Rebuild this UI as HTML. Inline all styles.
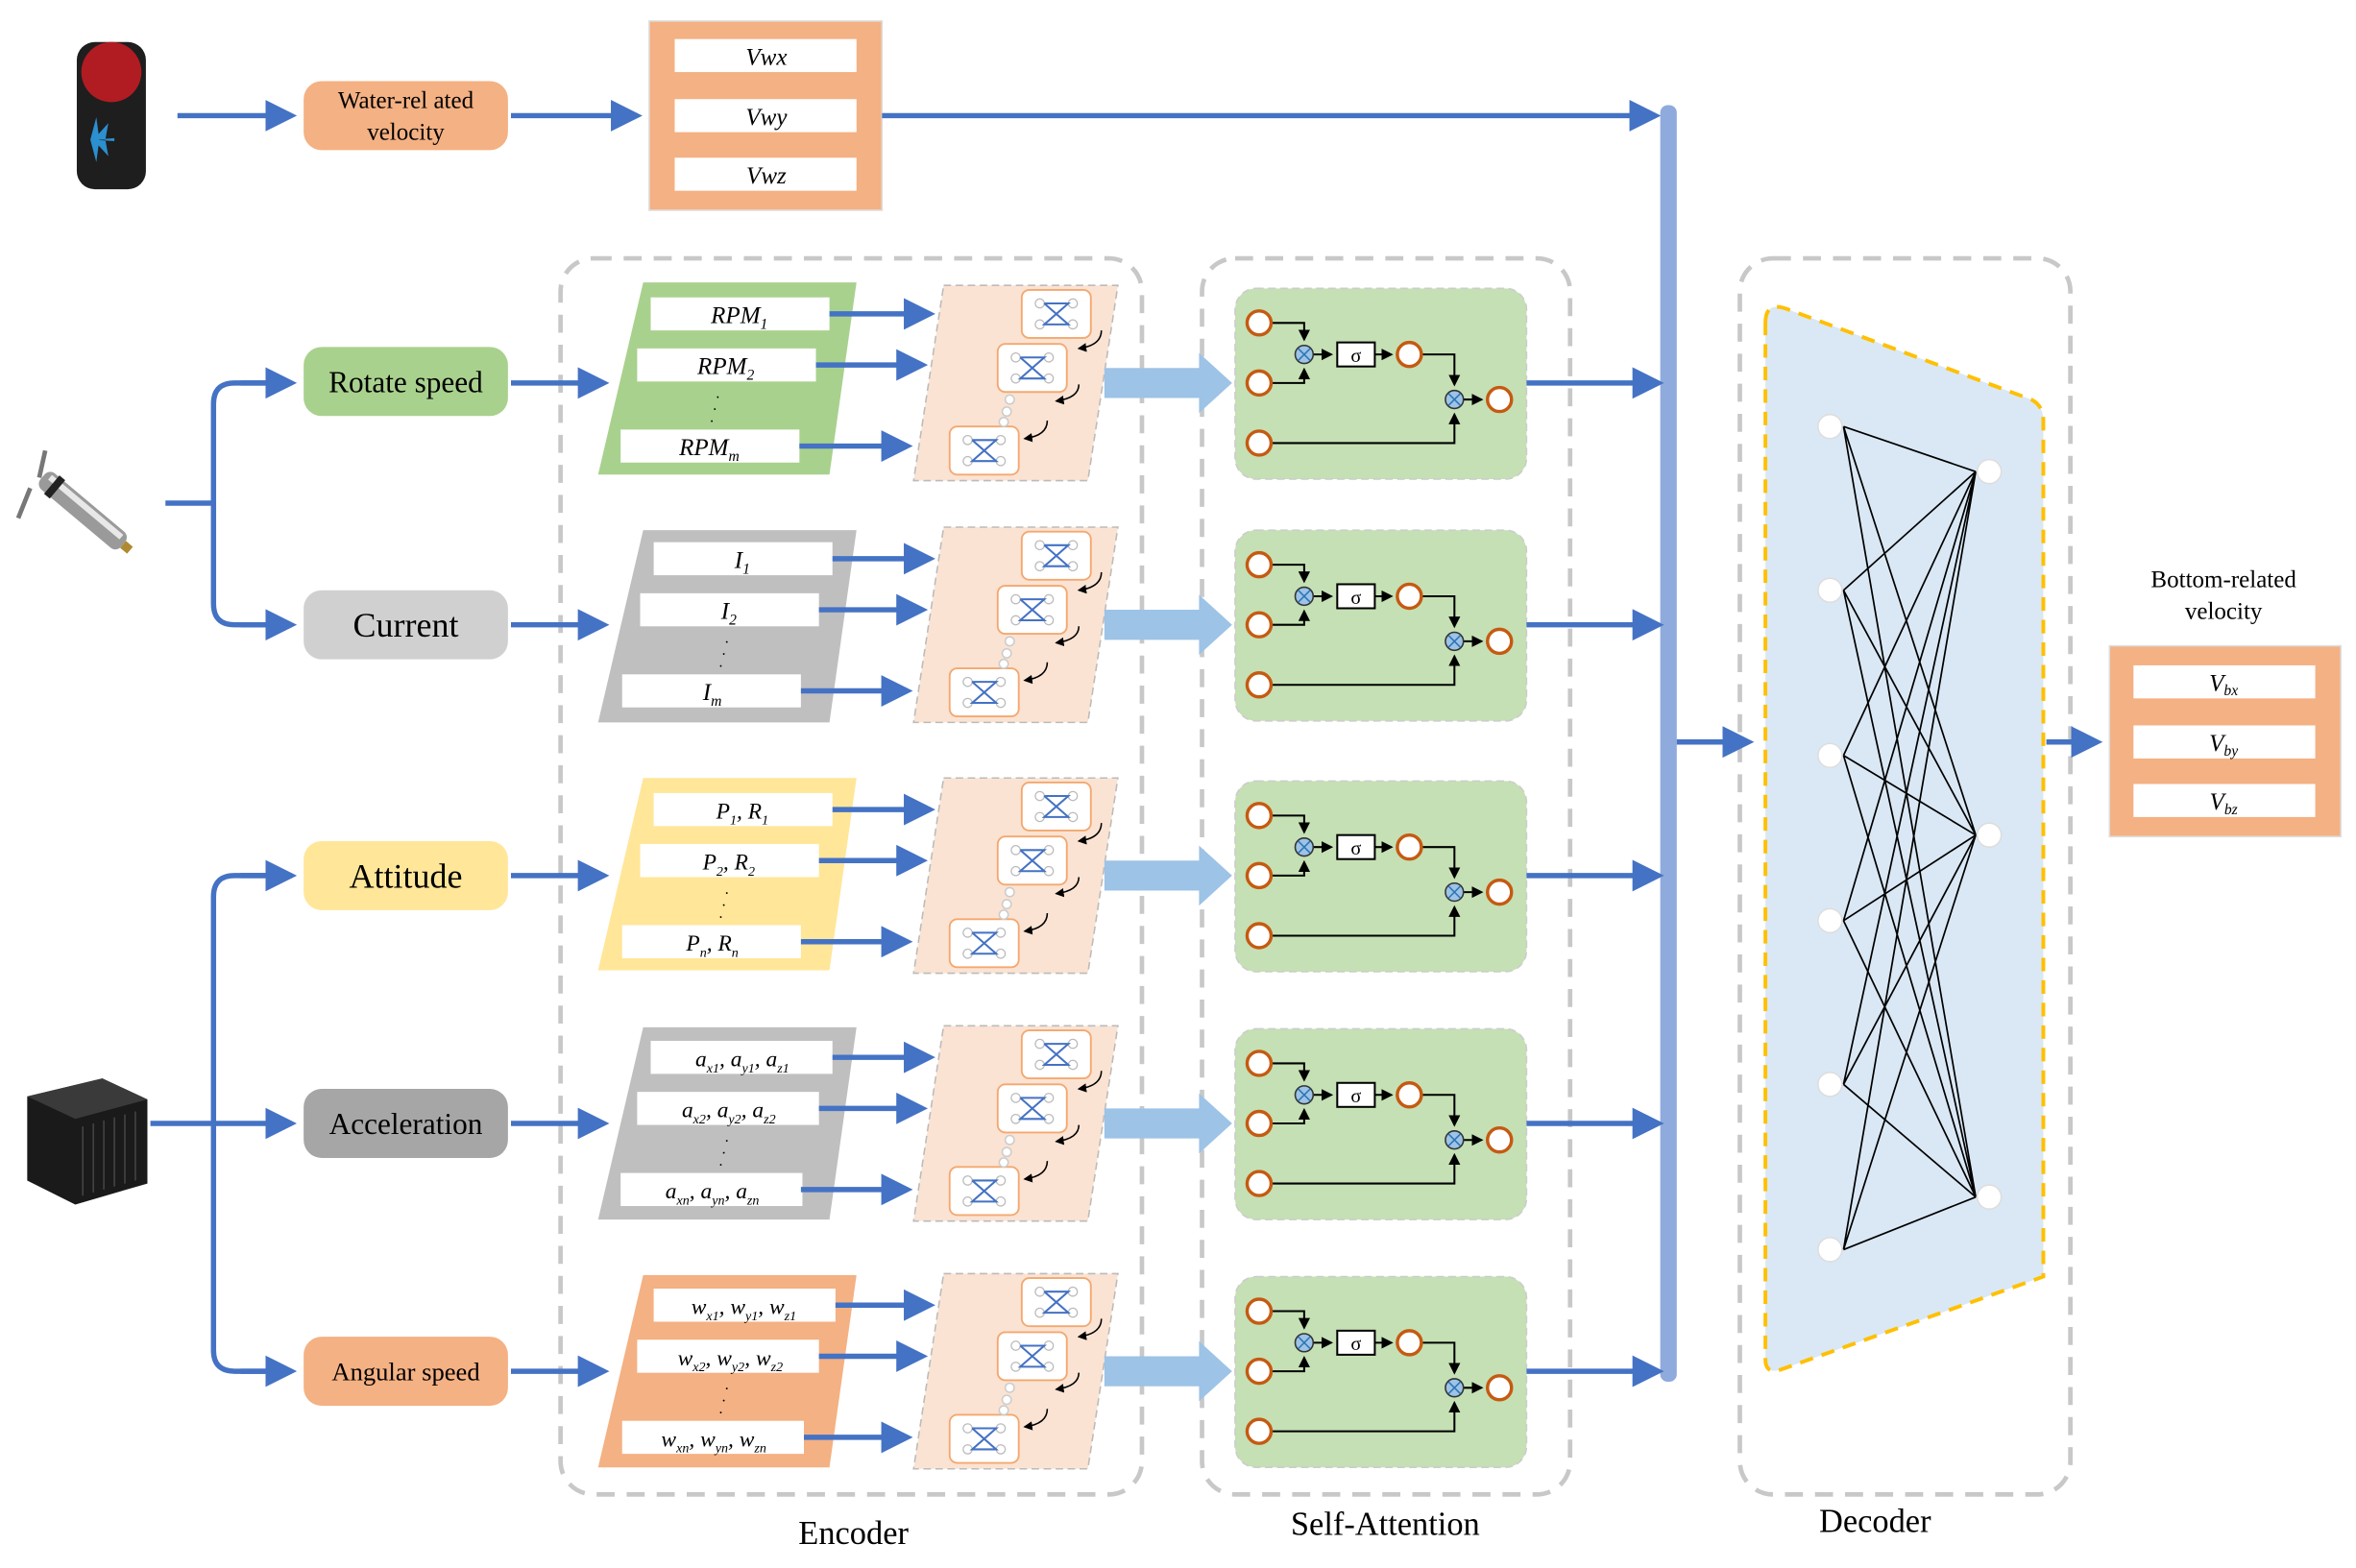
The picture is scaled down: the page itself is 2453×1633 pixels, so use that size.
<!DOCTYPE html>
<html><head><meta charset="utf-8"><style>
html,body{margin:0;padding:0;background:#fff}
svg{display:block}
text{font-family:"Liberation Serif",serif}
.it{font-style:italic}
</style></head><body>
<svg width="2453" height="1633" viewBox="0 0 1568 1044" xmlns="http://www.w3.org/2000/svg">
<defs>
<marker id="ah" markerWidth="6" markerHeight="6" refX="5" refY="3" orient="auto" markerUnits="strokeWidth"><path d="M0,0 L6,3 L0,6 z" fill="#4472c4"/></marker>
<marker id="bk" markerWidth="6" markerHeight="6" refX="5" refY="3" orient="auto" markerUnits="strokeWidth"><path d="M0,0 L6,3 L0,6 z" fill="#000"/></marker>
<g id="cell">
<rect x="0" y="0" width="46" height="32" rx="5" fill="#fff" stroke="#f4a870" stroke-width="1.2"/>
<circle cx="12" cy="9" r="3" fill="#fff" stroke="#bbb" stroke-width=".8"/><circle cx="34" cy="9" r="3" fill="#fff" stroke="#bbb" stroke-width=".8"/>
<circle cx="12" cy="23" r="3" fill="#fff" stroke="#bbb" stroke-width=".8"/><circle cx="34" cy="23" r="3" fill="#fff" stroke="#bbb" stroke-width=".8"/>
<path d="M15,9 H31 L15,23 H31 L15,9" fill="none" stroke="#4472c4" stroke-width="1.3"/>
</g>
<g id="lstm">
<path d="M628,190 L744,190 L724,320 L608,320 Z" fill="#fbe3d3" stroke="#bbb" stroke-dasharray="5,3"/>
<use href="#cell" x="680" y="193"/>
<use href="#cell" x="664" y="229"/>
<use href="#cell" x="632" y="284"/>
<circle cx="672" cy="266" r="3" fill="#fff" stroke="#ccc"/><circle cx="670" cy="274" r="3" fill="#fff" stroke="#ccc"/><circle cx="668" cy="281" r="3" fill="#fff" stroke="#ccc"/>
<path d="M733,220 Q733,230 718,232" fill="none" stroke="#000" marker-end="url(#bk)"/>
<path d="M718,256 Q718,265 703,267" fill="none" stroke="#000" marker-end="url(#bk)"/>
<path d="M697,280 Q697,290 682,292" fill="none" stroke="#000" marker-end="url(#bk)"/>
<path d="M735,245 H798 V235 L820,255 L798,275 V265 H735 Z" fill="#9dc3e6"/>
</g>
<g id="att">
<rect x="822" y="192" width="194" height="127" rx="14" fill="#c5e0b4" stroke="#ccc" stroke-dasharray="5,3"/>
<g fill="none" stroke="#000" stroke-width="1.3">
<path d="M846,215 H868 V226" marker-end="url(#bk)"/>
<path d="M846,255 H868 V246" marker-end="url(#bk)"/>
<path d="M874,236 H886" marker-end="url(#bk)"/>
<path d="M915,236 H926" marker-end="url(#bk)"/>
<path d="M946,236 H968 V256" marker-end="url(#bk)"/>
<path d="M846,295 H968 V276" marker-end="url(#bk)"/>
<path d="M974,266 H986" marker-end="url(#bk)"/>
</g>
<g fill="#fff" stroke="#c55a11" stroke-width="2.2">
<circle cx="838" cy="215" r="8"/><circle cx="838" cy="255" r="8"/><circle cx="838" cy="295" r="8"/>
<circle cx="938" cy="236" r="8"/><circle cx="998" cy="266" r="8"/>
</g>
<circle cx="868" cy="236" r="6" fill="#9dc3e6" stroke="#333"/><path d="M864,232 L872,240 M872,232 L864,240" stroke="#2e75b6"/>
<circle cx="968" cy="266" r="6" fill="#9dc3e6" stroke="#333"/><path d="M964,262 L972,270 M972,262 L964,270" stroke="#2e75b6"/>
<rect x="890" y="228" width="25" height="16" fill="#fff" stroke="#000" stroke-width="1.3"/>
<text x="902.5" y="241" font-size="13" text-anchor="middle" font-family="Liberation Sans,sans-serif">σ</text>
<path d="M1016,255 H1104" stroke="#4472c4" stroke-width="3.5" marker-end="url(#ah)"/>
</g>
</defs>

<!-- outer dashed containers -->
<g fill="none" stroke="#c8c8c8" stroke-width="3" stroke-dasharray="12,8">
<rect x="373" y="172" width="387" height="823" rx="22"/>
<rect x="800" y="172" width="245" height="823" rx="22"/>
<rect x="1158" y="172" width="220" height="823" rx="22"/>
</g>
<text x="568" y="1028" font-size="22" text-anchor="middle">Encoder</text>
<text x="922" y="1022" font-size="22" text-anchor="middle">Self-Attention</text>
<text x="1248" y="1020" font-size="22" text-anchor="middle">Decoder</text>

<!-- top row -->
<rect x="51" y="28" width="46" height="98" rx="12" fill="#1e1e1e"/>
<circle cx="74" cy="48" r="20" fill="#b01c22"/>
<path d="M62,93 L72,82 L70,93 Z M62,93 L72,104 L70,93 Z M60,93 L64,78 L66,93 Z M60,93 L64,108 L66,93Z M62,93 L76,92 L76,94 Z" fill="#2b8fd0"/>
<path d="M118,77 H194" stroke="#4472c4" stroke-width="3.5" marker-end="url(#ah)"/>
<rect x="202" y="54" width="136" height="46" rx="12" fill="#f4b183"/>
<text x="270" y="72" font-size="16" text-anchor="middle">Water-rel ated</text>
<text x="270" y="93" font-size="16" text-anchor="middle">velocity</text>
<path d="M340,77 H424" stroke="#4472c4" stroke-width="3.5" marker-end="url(#ah)"/>
<rect x="432" y="14" width="155" height="126" fill="#f4b183" stroke="#ddd"/>
<rect x="449" y="26" width="121" height="22" fill="#fff"/><rect x="449" y="66" width="121" height="22" fill="#fff"/><rect x="449" y="105" width="121" height="22" fill="#fff"/>
<text x="510" y="43" font-size="16" class="it" text-anchor="middle">Vwx</text>
<text x="510" y="83" font-size="16" class="it" text-anchor="middle">Vwy</text>
<text x="510" y="122" font-size="16" class="it" text-anchor="middle">Vwz</text>
<path d="M587,77 H1102" stroke="#4472c4" stroke-width="3.5" marker-end="url(#ah)"/>

<!-- bus -->
<rect x="1105" y="70" width="11" height="850" rx="5" fill="#8faadc"/>
<path d="M1116,494 H1164" stroke="#4472c4" stroke-width="3.5" marker-end="url(#ah)"/>

<!-- left sensors -->
<g transform="rotate(40 55 340)">
<rect x="20" y="333" width="70" height="14" rx="5" fill="#9a9a9a"/>
<rect x="24" y="335" width="62" height="4" fill="#e8e8e8"/>
<rect x="28" y="332" width="5" height="16" fill="#222"/>
<rect x="90" y="337" width="6" height="6" fill="#b08a30"/>
</g>
<path d="M20,325 L12,345 M30,300 L26,318" stroke="#777" stroke-width="3"/>
<path d="M110,335 H142" stroke="#4472c4" stroke-width="3.5"/>
<path d="M194,255 H156 Q142,255 142,269 V402 Q142,416 156,416 H194" fill="none" stroke="#4472c4" stroke-width="3.5"/>
<path d="M160,255 H194" stroke="#4472c4" stroke-width="3.5" marker-end="url(#ah)"/>
<path d="M160,416 H194" stroke="#4472c4" stroke-width="3.5" marker-end="url(#ah)"/>

<path d="M18,730 L68,718 L98,732 L98,788 L50,802 L18,786 Z" fill="#1a1a1a"/>
<path d="M18,730 L68,718 L98,732 L50,745 Z" fill="#3a3a3a"/>
<path d="M55,750 V796 M62,748 V794 M69,746 V792 M76,744 V790 M83,742 V788 M90,740 V786" stroke="#444"/>
<path d="M100,748 H194" stroke="#4472c4" stroke-width="3.5" marker-end="url(#ah)"/>
<path d="M194,583 H156 Q142,583 142,597 V899 Q142,913 156,913 H194" fill="none" stroke="#4472c4" stroke-width="3.5"/>
<path d="M160,583 H194" stroke="#4472c4" stroke-width="3.5" marker-end="url(#ah)"/>
<path d="M160,913 H194" stroke="#4472c4" stroke-width="3.5" marker-end="url(#ah)"/>

<!-- pills -->
<rect x="202" y="231" width="136" height="46" rx="12" fill="#a9d18e"/>
<text x="270" y="261" font-size="20" text-anchor="middle">Rotate speed</text>
<rect x="202" y="393" width="136" height="46" rx="12" fill="#d0d0d0"/>
<text x="270" y="424" font-size="23" text-anchor="middle">Current</text>
<rect x="202" y="560" width="136" height="46" rx="12" fill="#ffe699"/>
<text x="270" y="591" font-size="23" text-anchor="middle">Attitude</text>
<rect x="202" y="725" width="136" height="46" rx="12" fill="#a6a6a6"/>
<text x="270" y="755" font-size="20" text-anchor="middle">Acceleration</text>
<rect x="202" y="890" width="136" height="46" rx="12" fill="#f4b183"/>
<text x="270" y="919" font-size="17" text-anchor="middle">Angular speed</text>

<!-- rows -->
<g id="rowsstatic">
<g transform="translate(0,0)"><use href="#lstm"/><use href="#att"/></g>
<g transform="translate(0,161)"><use href="#lstm"/><use href="#att"/></g>
<g transform="translate(0,328)"><use href="#lstm"/><use href="#att"/></g>
<g transform="translate(0,493)"><use href="#lstm"/><use href="#att"/></g>
<g transform="translate(0,658)"><use href="#lstm"/><use href="#att"/></g>
</g>

<!-- input parallelograms -->
<g>
<path d="M340,255 H402" stroke="#4472c4" stroke-width="3.5" marker-end="url(#ah)"/>
<path d="M428,188 L570,188 L552,316 L398,316 Z" fill="#a9d18e"/>
<rect x="433" y="198" width="119" height="22" fill="#fff"/><rect x="424" y="232" width="119" height="22" fill="#fff"/><rect x="413" y="286" width="119" height="22" fill="#fff"/>
<text x="492" y="215" font-size="16" class="it" text-anchor="middle">RPM<tspan font-size="10" dy="4">1</tspan></text>
<text x="483" y="249" font-size="16" class="it" text-anchor="middle">RPM<tspan font-size="10" dy="4">2</tspan></text>
<text x="472" y="303" font-size="16" class="it" text-anchor="middle">RPM<tspan font-size="10" dy="4">m</tspan></text>
<text x="476" y="268" font-size="10">·</text><text x="474" y="276" font-size="10">·</text><text x="472" y="284" font-size="10">·</text>
<path d="M552,209 H619" stroke="#4472c4" stroke-width="3.5" marker-end="url(#ah)"/>
<path d="M543,243 H614" stroke="#4472c4" stroke-width="3.5" marker-end="url(#ah)"/>
<path d="M532,297 H604" stroke="#4472c4" stroke-width="3.5" marker-end="url(#ah)"/>
</g>
<g transform="translate(0,161)">
<path d="M340,255 H402" stroke="#4472c4" stroke-width="3.5" marker-end="url(#ah)"/>
<path d="M428,192 L570,192 L552,320 L398,320 Z" fill="#bfbfbf"/>
<rect x="435" y="200" width="119" height="22" fill="#fff"/><rect x="426" y="234" width="119" height="22" fill="#fff"/><rect x="414" y="288" width="119" height="22" fill="#fff"/>
<text x="494" y="217" font-size="16" class="it" text-anchor="middle">I<tspan font-size="10" dy="4">1</tspan></text>
<text x="485" y="251" font-size="16" class="it" text-anchor="middle">I<tspan font-size="10" dy="4">2</tspan></text>
<text x="474" y="305" font-size="16" class="it" text-anchor="middle">I<tspan font-size="10" dy="4">m</tspan></text>
<text x="482" y="270" font-size="10">·</text><text x="480" y="278" font-size="10">·</text><text x="478" y="286" font-size="10">·</text>
<path d="M554,211 H619" stroke="#4472c4" stroke-width="3.5" marker-end="url(#ah)"/>
<path d="M545,245 H614" stroke="#4472c4" stroke-width="3.5" marker-end="url(#ah)"/>
<path d="M533,299 H604" stroke="#4472c4" stroke-width="3.5" marker-end="url(#ah)"/>
</g>
<g transform="translate(0,328)">
<path d="M340,255 H402" stroke="#4472c4" stroke-width="3.5" marker-end="url(#ah)"/>
<path d="M428,190 L570,190 L552,318 L398,318 Z" fill="#ffe699"/>
<rect x="435" y="200" width="119" height="22" fill="#fff"/><rect x="426" y="234" width="119" height="22" fill="#fff"/><rect x="414" y="288" width="119" height="22" fill="#fff"/>
<text x="494" y="217" font-size="15" class="it" text-anchor="middle">P<tspan font-size="9" dy="4">1</tspan><tspan dy="-4">, R</tspan><tspan font-size="9" dy="4">1</tspan></text>
<text x="485" y="251" font-size="15" class="it" text-anchor="middle">P<tspan font-size="9" dy="4">2</tspan><tspan dy="-4">, R</tspan><tspan font-size="9" dy="4">2</tspan></text>
<text x="474" y="305" font-size="15" class="it" text-anchor="middle">P<tspan font-size="9" dy="4">n</tspan><tspan dy="-4">, R</tspan><tspan font-size="9" dy="4">n</tspan></text>
<text x="482" y="270" font-size="10">·</text><text x="480" y="278" font-size="10">·</text><text x="478" y="286" font-size="10">·</text>
<path d="M554,211 H619" stroke="#4472c4" stroke-width="3.5" marker-end="url(#ah)"/>
<path d="M545,245 H614" stroke="#4472c4" stroke-width="3.5" marker-end="url(#ah)"/>
<path d="M533,299 H604" stroke="#4472c4" stroke-width="3.5" marker-end="url(#ah)"/>
</g>
<g transform="translate(0,493)">
<path d="M340,255 H402" stroke="#4472c4" stroke-width="3.5" marker-end="url(#ah)"/>
<path d="M428,191 L570,191 L552,319 L398,319 Z" fill="#bfbfbf"/>
<rect x="433" y="200" width="121" height="22" fill="#fff"/><rect x="424" y="234" width="121" height="22" fill="#fff"/><rect x="413" y="288" width="121" height="22" fill="#fff"/>
<text x="494" y="217" font-size="15" class="it" text-anchor="middle">a<tspan font-size="9" dy="4">x1</tspan><tspan dy="-4">, a</tspan><tspan font-size="9" dy="4">y1</tspan><tspan dy="-4">, a</tspan><tspan font-size="9" dy="4">z1</tspan></text>
<text x="485" y="251" font-size="15" class="it" text-anchor="middle">a<tspan font-size="9" dy="4">x2</tspan><tspan dy="-4">, a</tspan><tspan font-size="9" dy="4">y2</tspan><tspan dy="-4">, a</tspan><tspan font-size="9" dy="4">z2</tspan></text>
<text x="474" y="305" font-size="15" class="it" text-anchor="middle">a<tspan font-size="9" dy="4">xn</tspan><tspan dy="-4">, a</tspan><tspan font-size="9" dy="4">yn</tspan><tspan dy="-4">, a</tspan><tspan font-size="9" dy="4">zn</tspan></text>
<text x="482" y="270" font-size="10">·</text><text x="480" y="278" font-size="10">·</text><text x="478" y="286" font-size="10">·</text>
<path d="M554,211 H619" stroke="#4472c4" stroke-width="3.5" marker-end="url(#ah)"/>
<path d="M545,245 H614" stroke="#4472c4" stroke-width="3.5" marker-end="url(#ah)"/>
<path d="M533,299 H604" stroke="#4472c4" stroke-width="3.5" marker-end="url(#ah)"/>
</g>
<g transform="translate(0,658)">
<path d="M340,255 H402" stroke="#4472c4" stroke-width="3.5" marker-end="url(#ah)"/>
<path d="M428,191 L570,191 L552,319 L398,319 Z" fill="#f4b183"/>
<rect x="435" y="200" width="121" height="22" fill="#fff"/><rect x="424" y="234" width="121" height="22" fill="#fff"/><rect x="414" y="288" width="121" height="22" fill="#fff"/>
<text x="495" y="217" font-size="15" class="it" text-anchor="middle">w<tspan font-size="9" dy="4">x1</tspan><tspan dy="-4">, w</tspan><tspan font-size="9" dy="4">y1</tspan><tspan dy="-4">, w</tspan><tspan font-size="9" dy="4">z1</tspan></text>
<text x="486" y="251" font-size="15" class="it" text-anchor="middle">w<tspan font-size="9" dy="4">x2</tspan><tspan dy="-4">, w</tspan><tspan font-size="9" dy="4">y2</tspan><tspan dy="-4">, w</tspan><tspan font-size="9" dy="4">z2</tspan></text>
<text x="475" y="305" font-size="15" class="it" text-anchor="middle">w<tspan font-size="9" dy="4">xn</tspan><tspan dy="-4">, w</tspan><tspan font-size="9" dy="4">yn</tspan><tspan dy="-4">, w</tspan><tspan font-size="9" dy="4">zn</tspan></text>
<text x="482" y="270" font-size="10">·</text><text x="480" y="278" font-size="10">·</text><text x="478" y="286" font-size="10">·</text>
<path d="M556,211 H619" stroke="#4472c4" stroke-width="3.5" marker-end="url(#ah)"/>
<path d="M545,245 H614" stroke="#4472c4" stroke-width="3.5" marker-end="url(#ah)"/>
<path d="M535,299 H604" stroke="#4472c4" stroke-width="3.5" marker-end="url(#ah)"/>
</g>

<!-- decoder -->
<path d="M1175,215 Q1175,200 1190,206 L1352,266 Q1360,270 1360,280 V850 L1185,912 Q1175,915 1175,905 Z" fill="#dae8f5" stroke="#ffc000" stroke-width="2.5" stroke-dasharray="9,6"/>
<g stroke="#000" stroke-width="1.1">
<path d="M1227,284 L1315,314 M1227,284 L1315,556 M1227,284 L1315,797
M1227,393 L1315,314 M1227,393 L1315,556 M1227,393 L1315,797
M1227,503 L1315,314 M1227,503 L1315,556 M1227,503 L1315,797
M1227,613 L1315,314 M1227,613 L1315,556 M1227,613 L1315,797
M1227,722 L1315,314 M1227,722 L1315,556 M1227,722 L1315,797
M1227,832 L1315,314 M1227,832 L1315,556 M1227,832 L1315,797"/>
</g>
<g fill="#fff" stroke="#ddd">
<circle cx="1218" cy="284" r="8"/><circle cx="1218" cy="393" r="8"/><circle cx="1218" cy="503" r="8"/>
<circle cx="1218" cy="613" r="8"/><circle cx="1218" cy="722" r="8"/><circle cx="1218" cy="832" r="8"/>
<circle cx="1324" cy="314" r="8"/><circle cx="1324" cy="556" r="8"/><circle cx="1324" cy="797" r="8"/>
</g>

<!-- output -->
<path d="M1362,494 H1396" stroke="#4472c4" stroke-width="3.5" marker-end="url(#ah)"/>
<text x="1480" y="391" font-size="16" text-anchor="middle">Bottom-related</text>
<text x="1480" y="412" font-size="16" text-anchor="middle">velocity</text>
<rect x="1404" y="430" width="154" height="127" fill="#f4b183" stroke="#ddd"/>
<rect x="1420" y="443" width="121" height="22" fill="#fff"/><rect x="1420" y="483" width="121" height="22" fill="#fff"/><rect x="1420" y="522" width="121" height="22" fill="#fff"/>
<text x="1480" y="460" font-size="16" class="it" text-anchor="middle">V<tspan font-size="10" dy="3">bx</tspan></text>
<text x="1480" y="500" font-size="16" class="it" text-anchor="middle">V<tspan font-size="10" dy="3">by</tspan></text>
<text x="1480" y="539" font-size="16" class="it" text-anchor="middle">V<tspan font-size="10" dy="3">bz</tspan></text>
</svg>
</body></html>
